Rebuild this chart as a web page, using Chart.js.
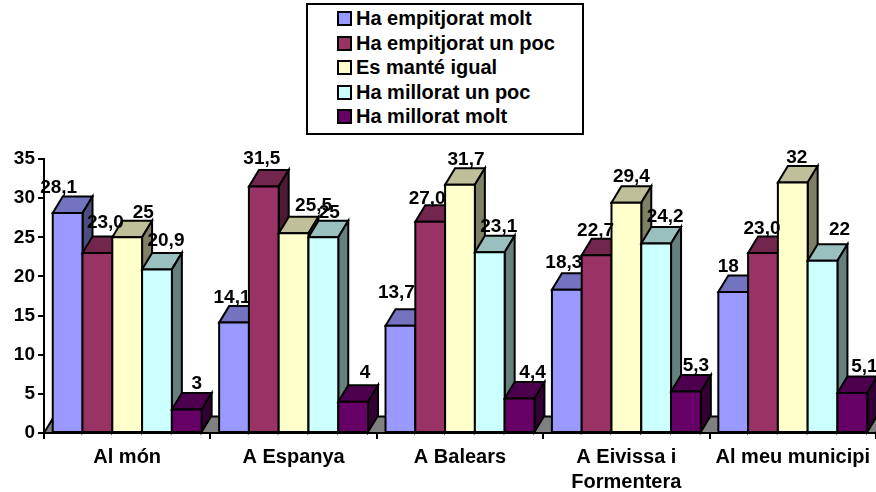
<!DOCTYPE html>
<html>
<head>
<meta charset="utf-8">
<style>
    body { margin: 0; background: #fff; }
    #wrap { position: relative; width: 876px; height: 492px; overflow: hidden; }
    #legend {
        position: absolute; left: 306px; top: 3px; width: 274px; height: 128px;
        border: 2px solid #000; background: #fff;
        font: bold 20px "Liberation Sans", Arial, sans-serif; color: #000;
    }
    .row { position: absolute; left: 29px; height: 24px; line-height: 24px; white-space: nowrap; }
    .swatch {
        position: absolute; left: 0; top: 5px; width: 11px; height: 11px;
        border: 2px solid #000;
    }
    .row span { margin-left: 19px; }
</style>
</head>
<body>
<div id="wrap">
    <canvas id="chart" width="876" height="492"></canvas>
    <div id="legend"></div>
</div>
<script src="https://cdn.jsdelivr.net/npm/chart.js@4"></script>
<script>
const categories = ['Al món', 'A Espanya', 'A Balears', ['A Eivissa i', 'Formentera'], 'Al meu municipi'];
const seriesNames = ['Ha empitjorat molt', 'Ha empitjorat un poc', 'Es manté igual', 'Ha millorat un poc', 'Ha millorat molt'];

const empitjoratMolt = [28.1, 14.1, 13.7, 18.3, 18];
const empitjoratPoc = [23.0, 31.5, 27.0, 22.7, 23.0];
const mantéIgual = [25, 25.5, 31.7, 29.4, 32];
const milloratPoc = [20.9, 25, 23.1, 24.2, 22];
const milloratMolt = [3, 4, 4.4, 5.3, 5.1];
const seriesValues = [empitjoratMolt, empitjoratPoc, mantéIgual, milloratPoc, milloratMolt];

// the source prints some values with a trailing zero, some without
const valueLabels = [
    ['28,1', '14,1', '13,7', '18,3', '18'],
    ['23,0', '31,5', '27,0', '22,7', '23,0'],
    ['25', '25,5', '31,7', '29,4', '32'],
    ['20,9', '25', '23,1', '24,2', '22'],
    ['3', '4', '4,4', '5,3', '5,1']
];
const yTicks = [0, 5, 10, 15, 20, 25, 30, 35];

// colours: front, top, side
const colors = [
    ['#9999FF', '#7373BF', '#4D4D80'],
    ['#993366', '#73264D', '#4D1A33'],
    ['#FFFFCC', '#BFBF99', '#808066'],
    ['#CCFFFF', '#99BFBF', '#668080'],
    ['#660066', '#4D004D', '#330033']
];

// labels were hand placed in the source: offset from the top centre of each bar
const labelOffsets = [
    [[-9, -25], [-2, -25], [-4, -33], [-3, -27], [-5, -25]],
    [[8, -30], [-2, -28], [-3, -23], [-1, -25], [-1, -24]],
    [[16, -25], [20, -28], [6, -25], [5, -26], [4, -25]],
    [[9, -29], [6, -25], [9, -25], [9, -27], [17, -31]],
    [[10, -26], [12, -29], [13, -26], [10, -26], [12, -26]]
];

const FONT = '"Liberation Sans", Arial, sans-serif';
const DX = 10;  // 3D depth
const DY = 16.5;

function poly(ctx, pts, fill) {
    ctx.beginPath();
    pts.forEach((p, i) => i ? ctx.lineTo(p[0], p[1]) : ctx.moveTo(p[0], p[1]));
    ctx.closePath();
    ctx.fillStyle = fill;
    ctx.fill();
    ctx.stroke();
}

// Chart.js paints datasets last to first, 3D needs left to right, so the plugin paints them
const bars3d = {
    id: 'bars3d',
    beforeDatasetsDraw(chart) {
        const ctx = chart.ctx;
        const area = chart.chartArea;
        ctx.save();
        ctx.strokeStyle = '#000';
        ctx.lineWidth = 2;
        ctx.lineJoin = 'miter';

        // floor
        poly(ctx, [[area.left, area.bottom], [area.right, area.bottom],
            [area.right + DX, area.bottom - DY], [area.left + DX, area.bottom - DY]], '#808080');

        chart.data.datasets.forEach((ds, i) => {
            chart.getDatasetMeta(i).data.forEach(bar => {
                const l = bar.x - bar.width / 2;
                const r = bar.x + bar.width / 2;
                const t = bar.y;
                const b = bar.base;
                poly(ctx, [[l, t], [r, t], [r + DX, t - DY], [l + DX, t - DY]], colors[i][1]);
                poly(ctx, [[r, t], [r + DX, t - DY], [r + DX, b - DY], [r, b]], colors[i][2]);
                poly(ctx, [[l, t], [r, t], [r, b], [l, b]], colors[i][0]);
            });
        });
        ctx.restore();
        return false;
    },
    afterDraw(chart) {
        const ctx = chart.ctx;
        ctx.save();
        ctx.font = 'bold 19px ' + FONT;
        ctx.fillStyle = '#000';
        ctx.textAlign = 'center';
        ctx.textBaseline = 'middle';
        chart.data.datasets.forEach((ds, i) => {
            chart.getDatasetMeta(i).data.forEach((bar, j) => {
                const off = labelOffsets[i][j];
                ctx.fillText(valueLabels[i][j], bar.x + off[0], bar.y + off[1]);
            });
        });
        ctx.restore();
    }
};

new Chart(document.getElementById('chart'), {
    type: 'bar',
    data: {
        labels: categories,
        datasets: seriesNames.map((name, i) => ({
            label: name,
            data: seriesValues[i],
            backgroundColor: colors[i][0],
            borderColor: '#000',
            borderWidth: 2
        }))
    },
    options: {
        responsive: false,
        animation: false,
        layout: { padding: { top: 159, right: 0, bottom: 0, left: 0 } },
        datasets: { bar: { categoryPercentage: 0.895, barPercentage: 1 } },
        plugins: { legend: { display: false }, tooltip: { enabled: false } },
        scales: {
            x: {
                afterFit: scale => { scale.height = 59; },
                grid: { drawOnChartArea: false, color: '#000', lineWidth: 2, tickLength: 6 },
                border: { color: '#000', width: 2 },
                ticks: {
                    color: '#000', padding: 6, maxRotation: 0, autoSkip: false,
                    font: { family: FONT, weight: 'bold', size: 20, lineHeight: 1.25 }
                }
            },
            y: {
                min: 0,
                max: 35,
                afterFit: scale => { scale.width = 44; },
                afterBuildTicks: scale => { scale.ticks = yTicks.map(v => ({ value: v })); },
                grid: { drawOnChartArea: false, color: '#000', lineWidth: 2, tickLength: 6 },
                border: { color: '#000', width: 2 },
                ticks: {
                    color: '#000', padding: 3,
                    font: { family: FONT, weight: 'bold', size: 19 }
                }
            }
        }
    },
    plugins: [bars3d]
});

// legend
const legendEl = document.getElementById('legend');
seriesNames.forEach((name, i) => {
    const row = document.createElement('div');
    row.className = 'row';
    row.style.top = (1 + i * 24.5) + 'px';
    row.innerHTML = '<div class="swatch" style="background:' + colors[i][0] + '"></div><span>' + name + '</span>';
    legendEl.appendChild(row);
});
</script>
</body>
</html>
